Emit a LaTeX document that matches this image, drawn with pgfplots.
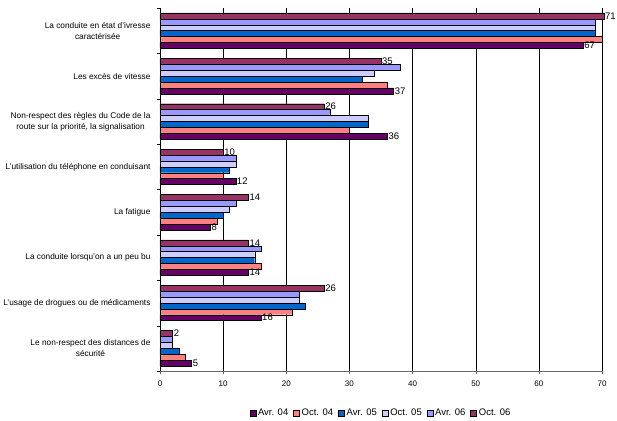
\documentclass[border=0pt]{standalone}
\usepackage{pgfplots}
\usepackage{pgfplotstable}
\pgfplotsset{compat=1.18}
\usepackage{fontspec}
\setmainfont{Liberation Sans}

\definecolor{cAvrA}{HTML}{660066}
\definecolor{cOctA}{HTML}{FF8080}
\definecolor{cAvrB}{HTML}{0066CC}
\definecolor{cOctB}{HTML}{CCCCFF}
\definecolor{cAvrC}{HTML}{9999FF}
\definecolor{cOctC}{HTML}{993366}

% y = 0 is the bottom category
\pgfplotstableread{
y  a04 o04 a05 o05 a06 o06
0  5   4   3   2   2   2
1  16  21  23  22  22  26
2  14  16  15  15  16  14
3  8   9   10  11  12  14
4  12  10  11  12  12  10
5  36  30  33  33  27  26
6  37  36  32  34  38  35
7  67  70  69  69  69  71
}\datatable

\pgfplotsset{
    bar/.style={draw=black, line width=0.4pt, fill=#1},
    lbl/.style={nodes near coords, 
        nodes near coords style={anchor=west, font=\fontsize{9.5}{10}\selectfont, inner sep=1pt}},
}

\begin{document}
\begin{tikzpicture}[font=\fontsize{8.3}{11}\selectfont]
\begin{axis}[
    xbar=0pt,
    bar width=0.13,
    scale only axis,
    width=442pt, height=363pt,
    xmin=0, xmax=70,
    ymin=-0.5, ymax=7.5,
    clip=false,
    axis x line*=bottom,
    axis y line*=left,
    x axis line style={draw=gray!80!black},
    y axis line style={draw=black},
    xtick={0,10,...,70},
    xmajorgrids,
    major grid style={draw=black, line width=0.4pt},
    tick align=outside,
    xtick style={draw=gray!80!black},
    major tick length=3pt,
    ytick={0,...,7},
    ytick style={draw=none},
    minor ytick={-0.5,0.5,...,7.5},
    minor tick length=3pt,
    minor y tick style={draw=black},
    yticklabels={
        {Le non-respect des distances de\\sécurité},
        {L'usage de drogues ou de médicaments},
        {La conduite lorsqu'on a un peu bu},
        {La fatigue},
        {L'utilisation du téléphone en conduisant},
        {Non-respect des règles du Code de la\\route sur la priorité, la signalisation},
        {Les excès de vitesse},
        {La conduite en état d'ivresse\\caractérisée}},
    yticklabel style={align=center, xshift=-3pt},
    xticklabel style={yshift=-3pt, font=\fontsize{8}{9}\selectfont},
    /pgf/number format/assume math mode=true,
    legend style={at={(0.5,-42pt)}, anchor=center, draw=none, fill=none,
        legend columns=-1, font=\fontsize{9.5}{10}\selectfont,
        /tikz/every even column/.append style={column sep=3pt}},
    legend image code/.code={\draw[#1] (0pt,-3pt) rectangle (6pt,3pt);},
    legend cell align=left,
]
\addplot[bar=cAvrA, lbl, point meta=x] table[x=a04, y=y] {\datatable};
\addlegendentry{Avr. 04}
\addplot[bar=cOctA] table[x=o04, y=y] {\datatable};
\addlegendentry{Oct. 04}
\addplot[bar=cAvrB] table[x=a05, y=y] {\datatable};
\addlegendentry{Avr. 05}
\addplot[bar=cOctB] table[x=o05, y=y] {\datatable};
\addlegendentry{Oct. 05}
\addplot[bar=cAvrC] table[x=a06, y=y] {\datatable};
\addlegendentry{Avr. 06}
% the bar beyond the axis end is cut off as in the original chart
\addplot[bar=cOctC, lbl, point meta=explicit]
    table[x expr={min(\thisrow{o06},70.3)}, y=y, meta=o06] {\datatable};
\addlegendentry{Oct. 06}
\end{axis}
\path (current axis.south west) ++(-160pt,-50pt) coordinate (bbA);
\path (current axis.north east) ++(15pt,8pt) coordinate (bbB);
\pgfresetboundingbox
\path[use as bounding box] (bbA) rectangle (bbB);
\end{tikzpicture}
\end{document}
